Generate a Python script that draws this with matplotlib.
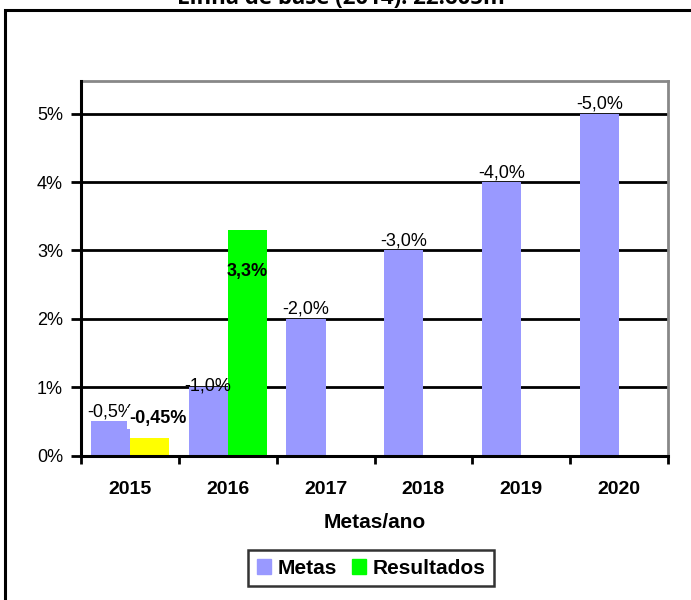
import matplotlib
matplotlib.use("Agg")
import matplotlib.pyplot as plt
from matplotlib import font_manager
from matplotlib.patches import Patch, Rectangle
import numpy as np

# values (percent)
years = ["2015", "2016", "2017", "2018", "2019", "2020"]
metas = [0.5, 1.0, 2.0, 3.0, 4.0, 5.0]
metas_labels = ["-0,5%", "-1,0%", "-2,0%", "-3,0%", "-4,0%", "-5,0%"]
resultados = [0.25, 3.3]
resultados_labels = ["-0,45%", "3,3%"]
resultados_colors = ["#FFFF00", "#00FF00"]
title = "Linha de base (2014): 22.605m³"

METAS_COLOR = "#9999FF"
FONT = ["Liberation Sans", "DejaVu Sans"]
plt.rcParams["font.family"] = FONT

# the labels in the original are set in a narrow face; use it when it is there
installed = {f.name for f in font_manager.fontManager.ttflist}
if "Liberation Sans Narrow" in installed:
    NARROW = ["Liberation Sans Narrow", "DejaVu Sans"]
    lab_size, year_size = 14, 15
else:
    NARROW = FONT
    lab_size, year_size = 13, 14

W, H = 691, 600
fig = plt.figure(figsize=(W / 100, H / 100), dpi=100)
ax = fig.add_axes([81 / W, 1 - 455.5 / H, (668 - 81) / W, (455.5 - 81) / H])

x = np.arange(len(years))
bw = 0.4
ax.bar(x - bw / 2, metas, width=bw, color=METAS_COLOR, zorder=3, label="Metas")
xr = x[: len(resultados)] + bw / 2
ax.bar(xr, resultados, width=bw, color=resultados_colors, zorder=3)

ax.set_xlim(-0.5, len(years) - 0.5)
ax.set_ylim(0, 5.48)
ax.set_yticks(range(0, 6))
ax.set_yticklabels([f"{v}%" for v in range(0, 6)], fontsize=13)
ax.yaxis.grid(True, color="black", linewidth=2, zorder=1)
ax.set_axisbelow(True)

# category ticks on the boundaries, labels at the centres
ax.set_xticks(np.arange(len(years) + 1) - 0.5)
ax.set_xticklabels([])
ax.set_xticks(x, minor=True)
ax.set_xticklabels(years, minor=True, fontsize=year_size, fontweight="bold", family=NARROW)
ax.tick_params(axis="x", which="minor", length=0, pad=18)
ax.tick_params(axis="x", which="major", length=6, width=2, direction="out")
ax.tick_params(axis="y", length=7, width=2, direction="out", pad=6)

for side in ("left", "bottom"):
    ax.spines[side].set_linewidth(2.2)
    ax.spines[side].set_color("black")
    ax.spines[side].set_zorder(5)
for side in ("top", "right"):
    ax.spines[side].set_linewidth(2)
    ax.spines[side].set_color("#888888")

ax.set_xlabel("Metas/ano", fontsize=15, fontweight="bold", labelpad=11)

for xi, v, lab in zip(x - bw / 2, metas, metas_labels):
    va = "center" if lab == "-1,0%" else "bottom"
    ax.annotate(lab, (xi, v), xytext=(0, 1), textcoords="offset pixels",
                ha="center", va=va, fontsize=lab_size, family=NARROW, zorder=6)

ax.annotate(resultados_labels[0], (xr[0], resultados[0]), xytext=(8, 20),
            textcoords="offset pixels", ha="center", va="center",
            fontsize=lab_size, fontweight="bold", family=NARROW, zorder=7,
            bbox=dict(boxstyle="square,pad=0.1", fc="white", ec="none"))
ax.annotate(resultados_labels[1], (xr[1], resultados[1]), xytext=(0, -42),
            textcoords="offset pixels", ha="center", va="center",
            fontsize=lab_size, fontweight="bold", family=NARROW, zorder=7)

handles = [Patch(color=METAS_COLOR, label="Metas"),
           Patch(color=resultados_colors[1], label="Resultados")]
leg = fig.legend(handles=handles, loc="center", bbox_to_anchor=(371 / W, 1 - 568 / H),
                 ncol=2, prop={"weight": "bold", "size": 15},
                 frameon=True, fancybox=False, handlelength=0.7, handleheight=0.7,
                 handletextpad=0.3, columnspacing=0.7, borderpad=0.4)
leg.get_frame().set_edgecolor("black")
leg.get_frame().set_linewidth(1.8)

# outer chart frame (only top and left edges fall inside the picture)
fig.patches.append(Rectangle((5 / W, -0.1), 1.2, 1.1 - 10 / H, transform=fig.transFigure,
                             fill=False, edgecolor="black", linewidth=2.2))

# title sits above the frame and is cut off by the top edge
fig.text(0.5, 1 - 4 / H, title, ha="center", va="baseline",
         fontsize=16, fontweight="bold", family=["Open Sans", "DejaVu Sans"])

fig.savefig("out.png", dpi=100)
